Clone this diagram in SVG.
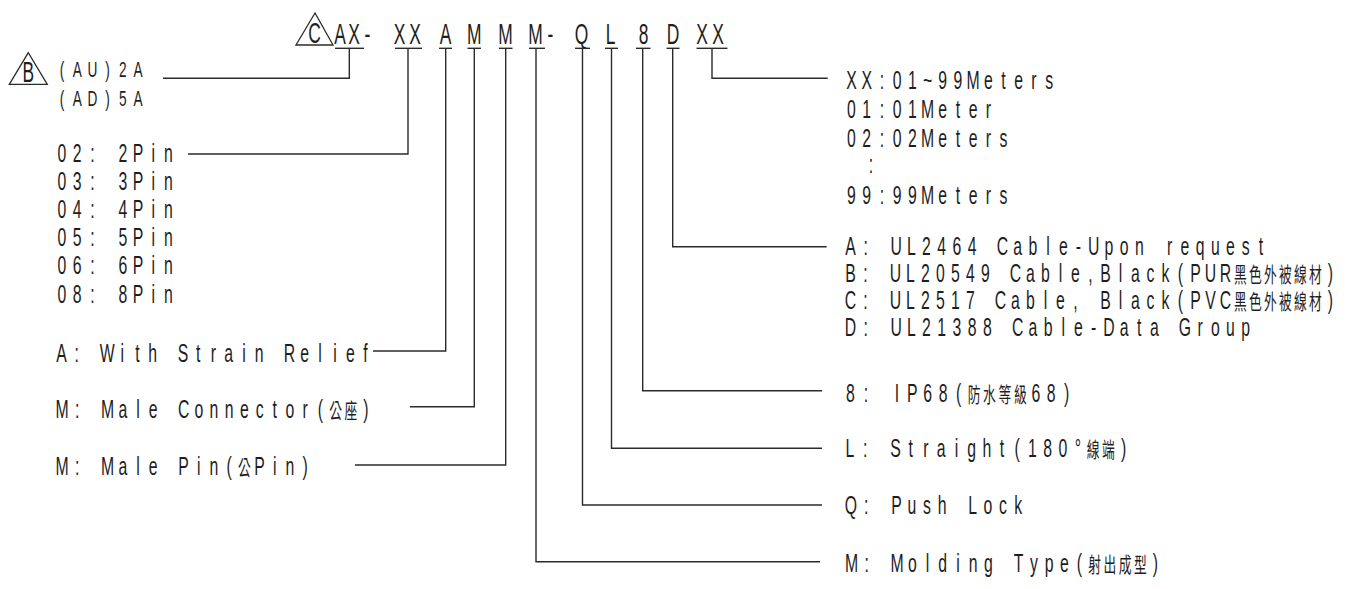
<svg xmlns="http://www.w3.org/2000/svg" width="1349" height="589" viewBox="0 0 1349 589">
<style>
  .d { font-family: "Liberation Sans", Arial, sans-serif; font-size: 26px; fill: #1e1e1e; text-anchor: middle; }
  .s { font-size: 22.5px; }
  .c { font-family: "Liberation Sans", Arial, sans-serif; font-size: 29px; fill: #1e1e1e; text-anchor: middle; }
  .k { font-family: "Noto Sans CJK TC", "Noto Sans CJK SC", sans-serif; font-size: 21px; }
  .ln { fill: none; stroke: #2b2b2b; stroke-width: 1.4; }
  .tri { fill: none; stroke: #2b2b2b; stroke-width: 1.3; }
</style>
<rect width="1349" height="589" fill="#ffffff"/>

<g id="code">
  <polygon class="tri" points="315,13 296,45 333,45"/>
  <text class="c" font-size="25" transform="translate(314.5,43) scale(0.6,1)">C</text>
  <text class="c" transform="scale(0.6,1)" y="44.5" x="566.7 590 612.5 665.8 691.7 742.5 790.5 842.5 892.5 917.5 969.2 1017.5 1072.5 1121.7 1170 1196.7">AX-XXAMMM-QL8DXX</text>
  <g class="ln">
    <line x1="335" y1="48.3" x2="364" y2="48.3"/>
    <line x1="395" y1="48.3" x2="422" y2="48.3"/>
    <line x1="439" y1="48.3" x2="452" y2="48.3"/>
    <line x1="467.5" y1="48.3" x2="481" y2="48.3"/>
    <line x1="499" y1="48.3" x2="512.5" y2="48.3"/>
    <line x1="529" y1="48.3" x2="545" y2="48.3"/>
    <line x1="575" y1="48.3" x2="590" y2="48.3"/>
    <line x1="605" y1="48.3" x2="618" y2="48.3"/>
    <line x1="636" y1="48.3" x2="650.5" y2="48.3"/>
    <line x1="666.5" y1="48.3" x2="679.5" y2="48.3"/>
    <line x1="696.5" y1="48.3" x2="727.5" y2="48.3"/>
  </g>
</g>

<g id="connectors" class="ln">
  <polyline points="349.3,48.3 349.3,78.3 163,78.3"/>
  <polyline points="408,48.3 408,154 188,154"/>
  <polyline points="445.7,48.3 445.7,351 373,351"/>
  <polyline points="474.3,48.3 474.3,406.7 410,406.7"/>
  <polyline points="505.7,48.3 505.7,465 355,465"/>
  <polyline points="536,48.3 536,561.7 820,561.7"/>
  <polyline points="582.5,48.3 582.5,505 822,505"/>
  <polyline points="611.5,48.3 611.5,448.3 822,448.3"/>
  <polyline points="642.7,48.3 642.7,390.7 822,390.7"/>
  <polyline points="672.7,48.3 672.7,246.7 826.7,246.7"/>
  <polyline points="712,48.3 712,78.3 827.7,78.3"/>
</g>

<g id="current">
  <polygon class="tri" points="28.3,52.7 9.3,84.3 47.3,84.3"/>
  <text class="c" font-size="21" transform="translate(28.3,81.7) scale(0.6,1)">B</text>
  <text class="d s" transform="translate(62,76.7) scale(0.608,1)" x="0 25 50 75 100 125">(AU)2A</text>
  <text class="d s" transform="translate(62,105.5) scale(0.608,1)" x="0 25 50 75 100 125">(AD)5A</text>
</g>

<g id="pins">
  <text class="d" transform="translate(62,161.7) scale(0.608,1)" x="0 25 50 75 100 125 150 175">02: 2Pin</text>
  <text class="d" transform="translate(62,190) scale(0.608,1)" x="0 25 50 75 100 125 150 175">03: 3Pin</text>
  <text class="d" transform="translate(62,217.5) scale(0.608,1)" x="0 25 50 75 100 125 150 175">04: 4Pin</text>
  <text class="d" transform="translate(62,246) scale(0.608,1)" x="0 25 50 75 100 125 150 175">05: 5Pin</text>
  <text class="d" transform="translate(62,274) scale(0.608,1)" x="0 25 50 75 100 125 150 175">06: 6Pin</text>
  <text class="d" transform="translate(62,303) scale(0.608,1)" x="0 25 50 75 100 125 150 175">08: 8Pin</text>
</g>

<g id="strain">
  <text class="d" transform="translate(61.5,361.7) scale(0.608,1)" x="0 25 50 75 100 125 150 175 200 225 250 275 300 325 350 375 400 425 450 475 500">A: With Strain Relief</text>
</g>

<g id="male-connector">
  <text class="d" transform="translate(62,418) scale(0.608,1)" x="0 25 50 75 100 125 150 175 200 225 250 275 300 325 350 375 400 425 450 475 500">M: Male Connector(<tspan class="k">公座</tspan>)</text>
</g>

<g id="male-pin">
  <text class="d" transform="translate(62,474.5) scale(0.608,1)" x="0 25 50 75 100 125 150 175 200 225 250 275 300 325 350 375 400">M: Male Pin(<tspan class="k">公</tspan>Pin)</text>
</g>

<g id="length">
  <text class="d" transform="translate(851.5,89.3) scale(0.608,1)" x="0 25 50 75 100 125 150 175 200 225 250 275 300 325">XX:01~99Meters</text>
  <text class="d" transform="translate(851.5,118.3) scale(0.608,1)" x="0 25 50 75 100 125 150 175 200 225">01:01Meter</text>
  <text class="d" transform="translate(851.5,146.7) scale(0.608,1)" x="0 25 50 75 100 125 150 175 200 225 250">02:02Meters</text>
  <text class="d" transform="translate(871,173.3) scale(0.608,1)">:</text>
  <text class="d" transform="translate(851.5,204) scale(0.608,1)" x="0 25 50 75 100 125 150 175 200 225 250">99:99Meters</text>
</g>

<g id="cable">
  <text class="d" transform="translate(850.5,255) scale(0.608,1)" x="0 25 50 75 100 125 150 175 200 225 250 275 300 325 350 375 400 425 450 475 500 525 550 575 600 625 650 675">A: UL2464 Cable-Upon request</text>
  <text class="d" transform="translate(850.5,281.7) scale(0.608,1)" x="0 24.7 49.3 74 98.7 123.4 148 172.7 197.4 222 246.7 271.4 296 320.7 345.4 370 394.7 419.4 444 468.7 493.4 518 542.7 567.4 592 616.7 641.4 666 690.7 715.4 740 764.7 789.4">B: UL20549 Cable,Black(PUR<tspan class="k">黑色外被線材</tspan>)</text>
  <text class="d" transform="translate(850.5,309) scale(0.608,1)" x="0 24.7 49.3 74 98.7 123.4 148 172.7 197.4 222 246.7 271.4 296 320.7 345.4 370 394.7 419.4 444 468.7 493.4 518 542.7 567.4 592 616.7 641.4 666 690.7 715.4 740 764.7 789.4">C: UL2517 Cable, Black(PVC<tspan class="k">黑色外被線材</tspan>)</text>
  <text class="d" transform="translate(850.5,335.5) scale(0.608,1)" x="0 25 50 75 100 125 150 175 200 225 250 275 300 325 350 375 400 425 450 475 500 525 550 575 600 625 650">D: UL21388 Cable-Data Group</text>
</g>

<g id="ip68">
  <text class="d" transform="translate(850.5,401.7) scale(0.608,1)" x="0 25.4 50.8 76.2 101.6 127 152.4 177.8 203.2 228.6 254 279.4 304.8 330.2 355.6">8: IP68(<tspan class="k">防水等級</tspan>68)</text>
</g>

<g id="straight">
  <text class="d" transform="translate(850,457.3) scale(0.608,1)" x="0 25 50 75 100 125 150 175 200 225 250 275 300 325 350 375 400 425 450">L: Straight(180°<tspan class="k">線端</tspan>)</text>
</g>

<g id="push-lock">
  <text class="d" transform="translate(851,514) scale(0.608,1)" x="0 25 50 75 100 125 150 175 200 225 250 275">Q: Push Lock</text>
</g>

<g id="molding">
  <text class="d" transform="translate(851.5,571.7) scale(0.608,1)" x="0 25 50 75 100 125 150 175 200 225 250 275 300 325 350 375 400 425 450 475 500">M: Molding Type(<tspan class="k">射出成型</tspan>)</text>
</g>
</svg>
